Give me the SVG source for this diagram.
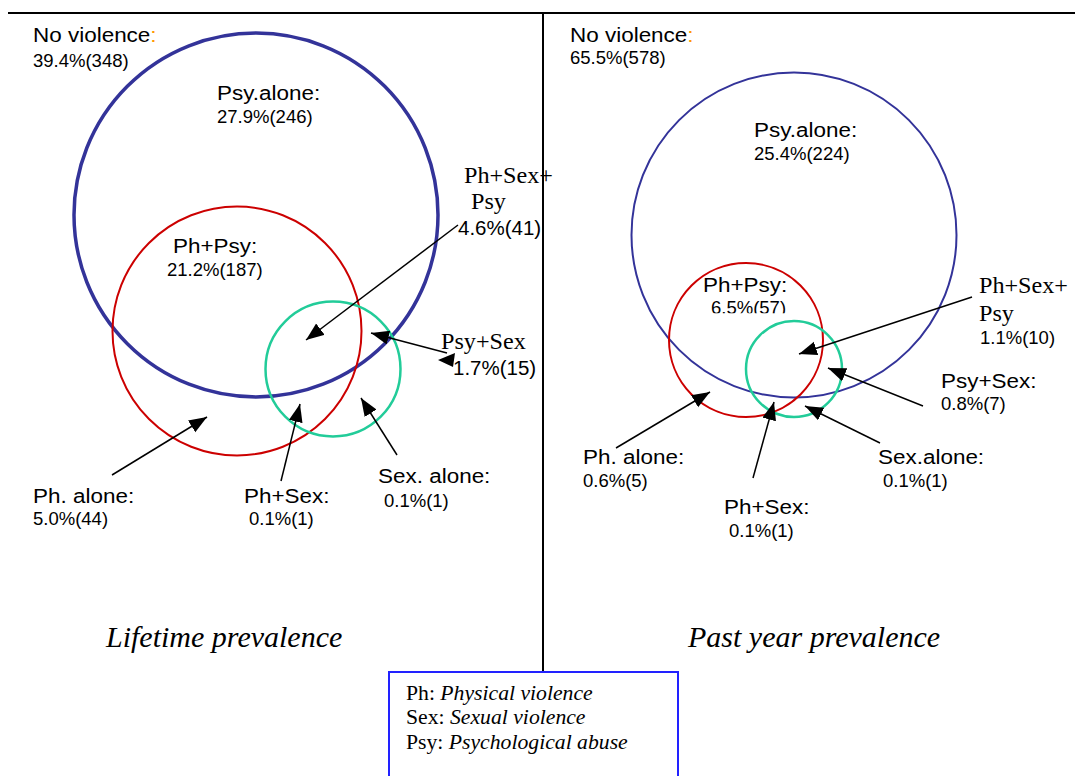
<svg xmlns="http://www.w3.org/2000/svg" width="1075" height="776" viewBox="0 0 1075 776">
<style>
.lab{font-family:"Liberation Sans",Arial,sans-serif;font-size:21px;fill:#000;transform-box:fill-box;transform-origin:left center;transform:scaleX(1.07)}
.num{font-family:"Liberation Sans",Arial,sans-serif;font-size:18.5px;fill:#000}
.big{font-size:20.5px}
.tm{font-family:"Liberation Serif","Times New Roman",serif;font-size:23px;fill:#000;transform-box:fill-box;transform-origin:left center;transform:scaleX(1.05)}
.title{font-family:"Liberation Serif","Times New Roman",serif;font-size:30px;font-style:italic;fill:#000}
.leg{font-family:"Liberation Serif","Times New Roman",serif;font-size:20px;fill:#000;transform-box:fill-box;transform-origin:left center;transform:scaleX(1.085)}
.it{font-style:italic}
.frame{stroke:#000;stroke-width:2;fill:none}
.arrow{stroke:#000;stroke-width:1.5;fill:none;marker-end:url(#ah)}
.blue{fill:none;stroke:#333399}
.red{fill:none;stroke:#cc0000;stroke-width:2}
.green{fill:none;stroke:#22cc99;stroke-width:2.5}
.orange{fill:#ff9900}
</style>
<defs>
<marker id="ah" markerUnits="userSpaceOnUse" markerWidth="20" markerHeight="16" refX="18" refY="7" orient="auto">
<path d="M0,0 L18,7 L0,14 z" fill="#000"/>
</marker>
<clipPath id="clip57"><rect x="690" y="290" width="120" height="23.2"/></clipPath>
</defs>
<rect width="1075" height="776" fill="#fff"/>
<g id="frame">
<line class="frame" x1="8" y1="13" x2="1075" y2="13"/>
<line class="frame" x1="543" y1="13" x2="543" y2="672"/>
</g>
<g id="left-panel">
<g id="left-no-violence">
<text class="lab" x="33" y="42">No violence<tspan class="orange">:</tspan></text>
<text class="num" x="33" y="67">39.4%(348)</text>
</g>
<g id="left-psy"><circle class="blue" stroke-width="3.5" cx="256" cy="215" r="182"/>
<text class="lab" x="217" y="100">Psy.alone:</text>
<text class="num" x="217" y="123">27.9%(246)</text></g>
<g id="left-ph"><circle class="red" cx="237" cy="331" r="124.5"/>
<text class="lab" x="173" y="253">Ph+Psy:</text>
<text class="num" x="167" y="276">21.2%(187)</text></g>
<g id="left-sex"><circle class="green" cx="333" cy="369" r="67.5"/></g>
<g id="left-phsexpsy-label">
<text class="tm" x="464" y="183">Ph+Sex+</text>
<text class="tm" x="471" y="209">Psy</text>
<text class="num big" x="458" y="235">4.6%(41)</text></g>
<g id="left-psysex-label">
<text class="tm" x="441" y="349">Psy+Sex</text>
<text class="num big" x="453" y="375">1.7%(15)</text></g>
<g id="left-phalone-label">
<text class="lab" x="33" y="503">Ph. alone:</text>
<text class="num" x="33" y="525">5.0%(44)</text></g>
<g id="left-phsex-label">
<text class="lab" x="244" y="503">Ph+Sex:</text>
<text class="num" x="249" y="525">0.1%(1)</text></g>
<g id="left-sexalone-label">
<text class="lab" x="378" y="483">Sex. alone:</text>
<text class="num" x="384" y="507">0.1%(1)</text></g>
<text class="title" x="106" y="647">Lifetime prevalence</text>
</g>
<g id="right-panel">
<g id="right-no-violence">
<text class="lab" x="570" y="42">No violence<tspan class="orange">:</tspan></text>
<text class="num" x="570" y="64">65.5%(578)</text></g>
<g id="right-psy"><circle class="blue" stroke-width="2" cx="794" cy="235" r="162.5"/>
<text class="lab" x="754" y="137">Psy.alone:</text>
<text class="num" x="754" y="160">25.4%(224)</text></g>
<g id="right-ph"><circle class="red" cx="746" cy="340" r="77"/>
<text class="lab" x="703" y="292">Ph+Psy:</text>
<text class="num" x="711" y="314" clip-path="url(#clip57)">6.5%(57)</text></g>
<g id="right-sex"><circle class="green" cx="794" cy="369" r="48"/></g>
<g id="right-phsexpsy-label">
<text class="tm" x="979" y="293">Ph+Sex+</text>
<text class="tm" x="979" y="321">Psy</text>
<text class="num" x="980" y="344">1.1%(10)</text></g>
<g id="right-psysex-label">
<text class="lab" x="941" y="388">Psy+Sex:</text>
<text class="num" x="941" y="410">0.8%(7)</text></g>
<g id="right-phalone-label">
<text class="lab" x="583" y="464">Ph. alone:</text>
<text class="num" x="583" y="487">0.6%(5)</text></g>
<g id="right-phsex-label">
<text class="lab" x="724" y="514">Ph+Sex:</text>
<text class="num" x="729" y="537">0.1%(1)</text></g>
<g id="right-sexalone-label">
<text class="lab" x="878" y="464">Sex.alone:</text>
<text class="num" x="883" y="487">0.1%(1)</text></g>
<text class="title" x="688" y="647">Past year prevalence</text>
</g>
<g id="connectors">
<line class="arrow" x1="458" y1="225" x2="306" y2="340"/>
<line class="arrow" x1="447" y1="353" x2="371" y2="333"/>
<polygon points="438,360 455,353 453,367" fill="#000"/>
<line class="arrow" x1="112" y1="475" x2="207" y2="417"/>
<line class="arrow" x1="281" y1="481" x2="300" y2="404"/>
<line class="arrow" x1="397" y1="455" x2="361" y2="398"/>
<line class="arrow" x1="972" y1="297" x2="799" y2="354"/>
<line class="arrow" x1="923" y1="406" x2="828" y2="368"/>
<line class="arrow" x1="616" y1="448" x2="710" y2="392"/>
<line class="arrow" x1="753" y1="478" x2="774" y2="402"/>
<line class="arrow" x1="880" y1="443" x2="805" y2="406"/>
</g>
<g id="legend">
<rect x="389" y="672" width="289" height="110" fill="#fff" stroke="#2222ff" stroke-width="2"/>
<text class="leg" x="406" y="700">Ph: <tspan class="it">Physical violence</tspan></text>
<text class="leg" x="406" y="724">Sex: <tspan class="it">Sexual violence</tspan></text>
<text class="leg" x="406" y="749">Psy: <tspan class="it">Psychological abuse</tspan></text>
</g>
</svg>
